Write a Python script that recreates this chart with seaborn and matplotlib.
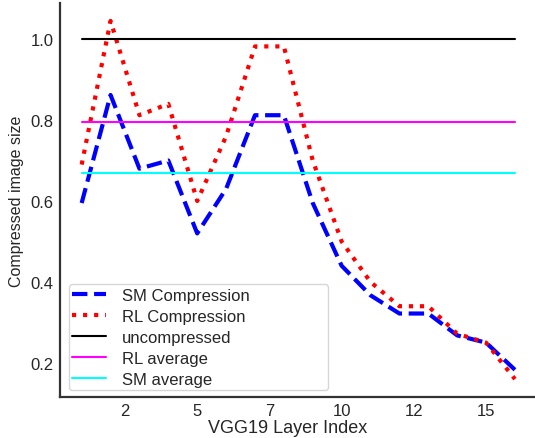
import matplotlib
matplotlib.use("Agg")
import matplotlib.pyplot as plt
import seaborn as sns
import numpy as np

layers = list(range(1, 17))
sm_compression = [0.595, 0.862, 0.680, 0.700, 0.520, 0.630, 0.812, 0.812,
                  0.595, 0.440, 0.367, 0.322, 0.322, 0.268, 0.250, 0.183]
rl_compression = [0.690, 1.045, 0.812, 0.840, 0.600, 0.760, 0.982, 0.982,
                  0.700, 0.500, 0.400, 0.340, 0.340, 0.272, 0.250, 0.160]
uncompressed = 1.0
rl_average = 0.795
sm_average = 0.668
xtick_pos = [2.5, 5, 7.5, 10, 12.5, 15]
xtick_labels = ["2", "5", "7", "10", "12", "15"]
ytick_pos = [0.2, 0.4, 0.6, 0.8, 1.0]
ytick_labels = ["0.2", "0.4", "0.6", "0.8", "1.0"]

sns.set_style("white")
plt.rcParams['font.family'] = ['Liberation Sans', 'DejaVu Sans']

fig = plt.figure(figsize=(5.35, 4.39), dpi=100)
ax_left, ax_bottom, ax_right, ax_top = 60, 398, 536.6, 4
ax = fig.add_axes([ax_left / 535, (439 - ax_bottom) / 439,
                   (ax_right - ax_left) / 535, (ax_bottom - ax_top) / 439])

sns.lineplot(x=layers, y=sm_compression, ax=ax, color="blue", linestyle="--",
             linewidth=3, label="SM Compression")
sns.lineplot(x=layers, y=rl_compression, ax=ax, color="red", linestyle=":",
             linewidth=3, label="RL Compression")
sns.lineplot(x=layers, y=[uncompressed] * len(layers), ax=ax, color="black",
             linewidth=1.5, label="uncompressed")
sns.lineplot(x=layers, y=[rl_average] * len(layers), ax=ax, color="magenta",
             linewidth=1.5, label="RL average")
sns.lineplot(x=layers, y=[sm_average] * len(layers), ax=ax, color="cyan",
             linewidth=1.5, label="SM average")

ax.set_xticks(xtick_pos)
ax.set_xticklabels(xtick_labels)
ax.set_yticks(ytick_pos)
ax.set_yticklabels(ytick_labels)
ax.tick_params(axis="both", labelsize=12, length=2, width=0.8, color="0.3", pad=2.5)
ax.set_xlabel("VGG19 Layer Index", fontsize=13)
ax.set_ylabel("Compressed image size", fontsize=11.5, labelpad=5)
W = ax_right - ax_left
H = ax_bottom - ax_top
ax.xaxis.set_label_coords((287.5 - ax_left) / W, -(433 - ax_bottom) / H)
ax.xaxis.label.set_va("baseline")
sns.despine(ax=ax)
for s in ["left", "bottom"]:
    ax.spines[s].set_color("0.2")
    ax.spines[s].set_linewidth(1.6)

ax.legend(loc="lower left", fontsize=12, handlelength=2.0, labelspacing=0.36,
          borderpad=0.2, handletextpad=1.0, frameon=True, mode="expand",
          borderaxespad=0,
          bbox_to_anchor=((69 - ax_left) / W, (ax_bottom - 391) / H,
                          (328 - 69) / W, 0.2))

fig.savefig("out.png", dpi=100)
